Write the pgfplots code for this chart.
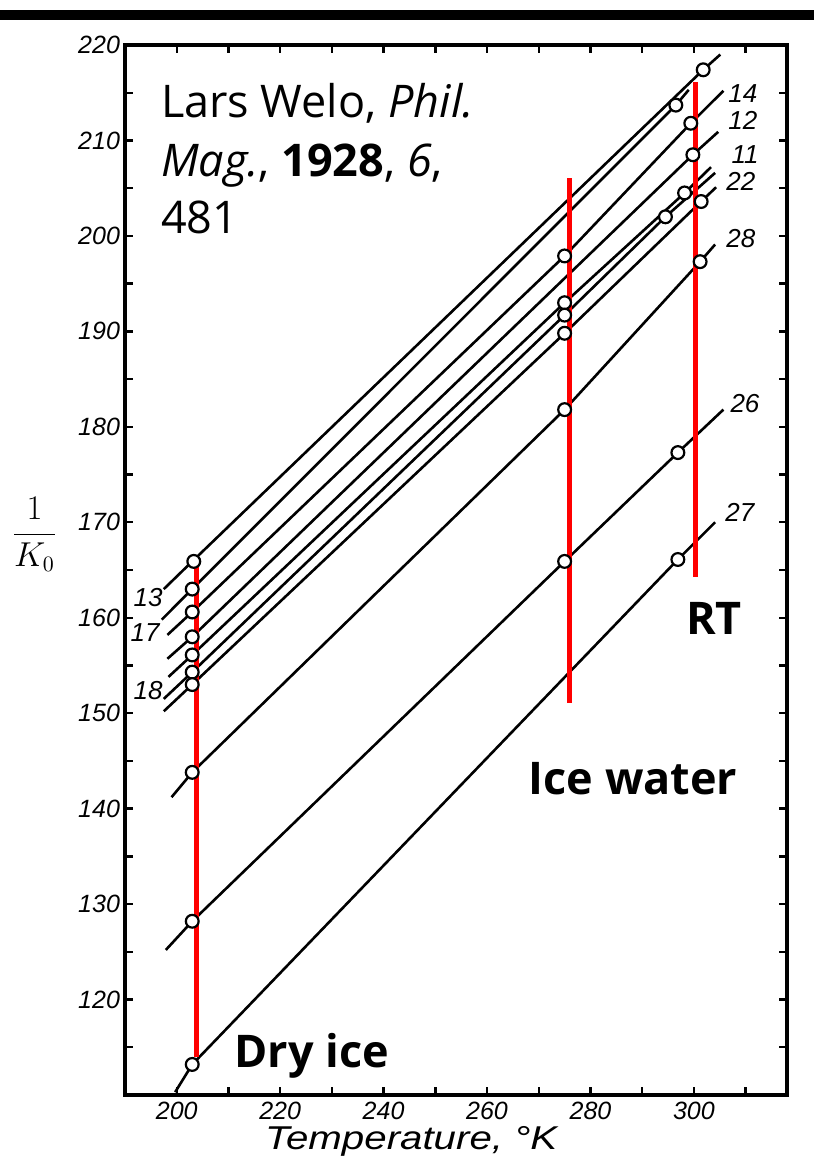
\documentclass[border=0pt]{standalone}
\usepackage{fontspec}
\setmainfont{Open Sans}
\newfontfamily\hand{Liberation Sans}
\usepackage{pgfplots}
\pgfplotsset{compat=1.18}

\begin{document}
\begin{tikzpicture}
\begin{axis}[
  name=ax, at={(0,0)}, anchor=south west,
  scale only axis, width=331pt, height=525pt,
  xmin=190, xmax=318, ymin=110, ymax=220,
  clip=false,
  axis line style={line width=2pt},
  xtick={200,210,...,310},
  xticklabels={200,,220,,240,,260,,280,,300,},
  ytick={115,120,...,220},
  yticklabels={,120,,130,,140,,150,,160,,170,,180,,190,,200,,210,,220},
  tick align=inside, major tick length=4pt,
  tick style={line width=1.2pt, black},
  ticklabel style={font=\hand\itshape\fontsize{12.5}{12.5}\selectfont},
  yticklabel style={xshift=1pt},
  samp/.style={black, solid, line width=1.3pt, mark=none},
]
% sample lines (start, circles, end)
\addplot[samp] coordinates {(197.5,163.0) (203,165.9) (301.8,217.4) (305.1,219.0)};           % 13
\addplot[samp] coordinates {(197.1,159.8) (203,163.0) (296.5,213.7) (299.0,215.3)};           % 17
\addplot[samp] coordinates {(198.2,158.2) (203,160.6) (275,197.9) (299.4,211.8) (305.7,215.2)}; % 14
\addplot[samp] coordinates {(198.2,155.7) (203,158.0) (299.8,208.5) (304.7,210.9)};           % 12
\addplot[samp] coordinates {(198.4,153.8) (203,156.1) (275,193.0) (298.2,204.5) (303.3,207.2)}; % 11
\addplot[samp] coordinates {(197.5,151.5) (203,154.3) (275,191.7) (294.5,202.0) (304.1,206.6)}; % 18
\addplot[samp] coordinates {(197.5,150.2) (203,153.0) (275,189.8) (301.4,203.6) (304.3,205.1)}; % 22
\addplot[samp] coordinates {(199.0,141.2) (203,143.8) (275,181.8) (301.2,197.3) (304.1,199.1)}; % 28
\addplot[samp] coordinates {(197.9,125.2) (203,128.2) (275,165.9) (296.9,177.3) (305.7,181.8)}; % 26
\addplot[samp] coordinates {(199.7,110.3) (203,113.2) (296.9,166.1) (304.1,170.0)};           % 27
% measured points
\addplot[only marks, mark=*, mark size=3.2pt, line width=1.1pt,
  mark options={fill=white, draw=black}] coordinates {
  (203.3,165.9) (203,163.0) (203,160.6) (203,158.0) (203,156.1) (203,154.3) (203,153.0)
  (203,143.8) (203,128.2) (203,113.2)
  (275,197.9) (275,193.0) (275,191.7) (275,189.8) (275,181.8) (275,165.9)
  (301.8,217.4) (296.5,213.7) (299.4,211.8) (299.8,208.5) (298.2,204.5) (294.5,202.0)
  (301.4,203.6) (301.2,197.3) (296.9,177.3) (296.9,166.1)};
% red markers: dry ice, ice water, room temperature
\addplot[red, line width=2.5pt] coordinates {(203.8,114.0) (203.8,166.1)};
\addplot[red, line width=2.5pt] coordinates {(275.9,151.1) (275.9,206.1)};
\addplot[red, line width=2.5pt] coordinates {(300.4,164.3) (300.4,216.1)};

% curve numbers
\begin{scope}[every node/.style={anchor=base west, inner sep=0pt,
    font=\hand\itshape\fontsize{13}{13}\selectfont}]
\node at (axis cs:306.6,214.0) {14};
\node at (axis cs:306.6,211.1) {12};
\node at (axis cs:307.2,207.6) {11};
\node at (axis cs:306.2,204.8) {22};
\node at (axis cs:306.2,198.8) {28};
\node at (axis cs:307.0,181.5) {26};
\node at (axis cs:306.0,170.1) {27};
\node at (axis cs:191.6,161.2) {13};
\node at (axis cs:191.0,157.5) {17};
\node at (axis cs:191.6,151.4) {18};
\end{scope}

% axis labels
\node[font=\fontsize{16}{16}\selectfont] at (axis cs:172.5,168.7) {$\displaystyle\frac{1}{K_0}$};
\node[anchor=base west, inner sep=0pt, xscale=1.22,
  font=\hand\itshape\fontsize{16.5}{16.5}\selectfont] at (axis cs:217.0,104.3) {Temperature, °K};

% annotations
\begin{scope}[every node/.style={anchor=base west, inner sep=0pt,
    font=\fontsize{22.5}{22.5}\selectfont}]
\node at (axis cs:196.9,212.4) {Lars Welo, \textit{Phil.}};
\node at (axis cs:196.9,206.2) {\textit{Mag.}, \textbf{1928}, \textit{6},};
\node at (axis cs:196.9,200.3) {481};
\node[font=\bfseries\fontsize{22.5}{22.5}\selectfont] at (axis cs:211.1,112.9) {Dry ice};
\node[font=\bfseries\fontsize{22.5}{22.5}\selectfont] at (axis cs:268.0,141.5) {Ice water};
\node[font=\bfseries\fontsize{22.5}{22.5}\selectfont] at (axis cs:298.4,158.2) {RT};
\end{scope}
\end{axis}
\fill (-62.5pt,537.7pt) rectangle (344.5pt,542.5pt);
\pgfresetboundingbox
\path (-62.5pt,-36.5pt) rectangle (344.5pt,547.5pt);
\end{tikzpicture}
\end{document}
